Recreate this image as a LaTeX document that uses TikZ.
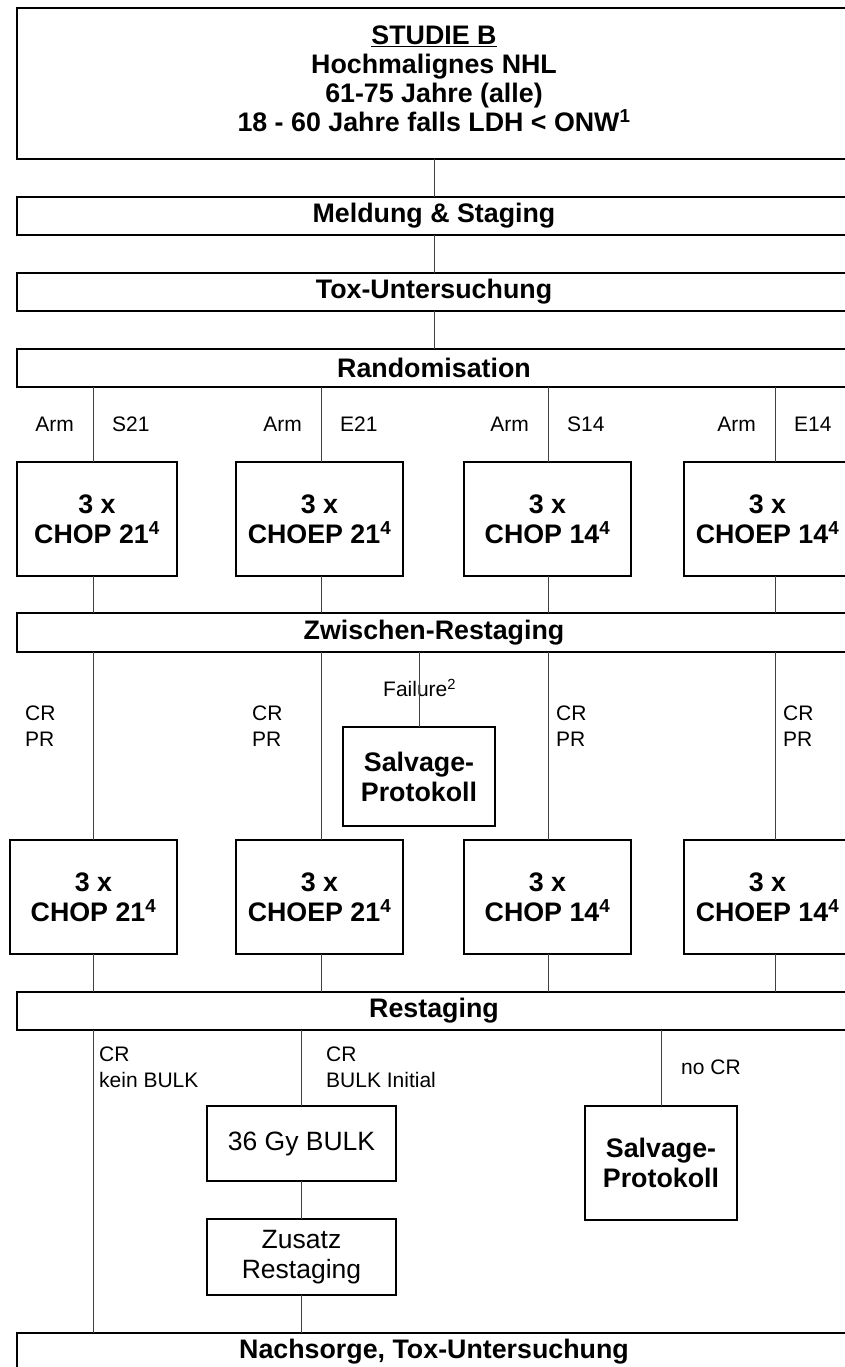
\documentclass[tikz,border=0pt]{standalone}
\usepackage{fontspec}
\setmainfont{Liberation Sans}
\begin{document}
\begin{tikzpicture}[x=1pt,y=-1pt,
  box/.style={draw=black, line width=1.6pt, inner sep=0pt, outer sep=0pt, align=center,
              font=\bfseries\fontsize{26.8}{30}\selectfont},
  bar/.style={box, minimum width=834pt, minimum height=38pt},
  chemo/.style={box, minimum width=167pt, minimum height=114pt},
  salvage/.style={box, minimum width=152pt},
  plainbox/.style={box, font=\fontsize{26.5}{30}\selectfont, minimum width=189pt},
  lbl/.style={inner sep=0pt, align=left, font=\fontsize{21}{26}\selectfont},
  title/.style={inner sep=0pt, align=center, font=\bfseries\fontsize{26.8}{29}\selectfont},
  link/.style={draw=black!75, line width=0.9pt}]

\useasboundingbox (0,0) rectangle (845,1367);
\clip (0,0) rectangle (845,1367);

% column positions of the four arms
\coordinate (k1) at (93,0);
\coordinate (k2) at (321,0);
\coordinate (k3) at (548,0);
\coordinate (k4) at (775,0);

% full-width stages
\node[box, minimum width=834pt, minimum height=151pt] (top) at (434,83.5) {};
\node[title] (toptext) at (434,78.5)
  {\underline{STUDIE B}\\Hochmalignes NHL\\61-75 Jahre (alle)\\18 - 60 Jahre falls LDH < ONW\textsuperscript{1}};
\node[bar] (meld) at (434,216) {Meldung \& Staging};
\node[bar] (tox)  at (434,292) {Tox-Untersuchung};
\node[bar] (rand) at (434,368) {Randomisation};
\node[bar, minimum height=39pt] (zw) at (434,632.5) {Zwischen-Restaging};
\node[bar] (rest) at (434,1011) {Restaging};
\node[bar] (nach) at (434,1352) {Nachsorge, Tox-Untersuchung};

% first three cycles
\node[chemo, minimum width=160pt] (a1) at (97,519)    {3 x\\CHOP 21\textsuperscript{4}};
\node[chemo] (a2) at (319.5,519) {3 x\\CHOEP 21\textsuperscript{4}};
\node[chemo] (a3) at (547.5,519) {3 x\\CHOP 14\textsuperscript{4}};
\node[chemo] (a4) at (767.5,519) {3 x\\CHOEP 14\textsuperscript{4}};

% second three cycles
\node[chemo] (d1) at (93.5,897)  {3 x\\CHOP 21\textsuperscript{4}};
\node[chemo] (d2) at (319.5,897) {3 x\\CHOEP 21\textsuperscript{4}};
\node[chemo] (d3) at (547.5,897) {3 x\\CHOP 14\textsuperscript{4}};
\node[chemo] (d4) at (767.5,897) {3 x\\CHOEP 14\textsuperscript{4}};

% salvage and radiotherapy
\node[salvage, minimum height=99pt] (salv1) at (419,776.5) {Salvage-\\Protokoll};
\node[plainbox, minimum height=75pt] (bulk) at (301.5,1143.5) {36 Gy BULK};
\node[plainbox, minimum height=76pt] (zus) at (301.5,1257) {Zusatz\\Restaging};
\node[salvage, minimum height=114pt] (salv2) at (661,1163) {Salvage-\\Protokoll};

% arm labels
\node[lbl, anchor=east] (arm1) at (74,424)  {Arm};
\node[lbl, anchor=west] (s21)  at (112,424) {S21};
\node[lbl, anchor=east] (arm2) at (302,424) {Arm};
\node[lbl, anchor=west] (e21)  at (340,424) {E21};
\node[lbl, anchor=east] (arm3) at (529,424) {Arm};
\node[lbl, anchor=west] (s14)  at (567,424) {S14};
\node[lbl, anchor=east] (arm4) at (756,424) {Arm};
\node[lbl, anchor=west] (e14)  at (794,424) {E14};

% response labels after interim restaging
\node[lbl, anchor=west] (r1) at (25,726)  {CR\\PR};
\node[lbl, anchor=west] (r2) at (252,726) {CR\\PR};
\node[lbl, anchor=west] (r3) at (556,726) {CR\\PR};
\node[lbl, anchor=west] (r4) at (783,726) {CR\\PR};
\node[lbl, anchor=west] (fail) at (383,688) {Failure\textsuperscript{2}};

% response labels after final restaging
\node[lbl, anchor=west] (q1) at (99,1067)  {CR\\kein BULK};
\node[lbl, anchor=west] (q2) at (326,1067) {CR\\BULK Initial};
\node[lbl, anchor=west] (q3) at (681,1067) {no CR};

% connectors
\draw[link] (top.south)  -- (meld.north);
\draw[link] (meld.south) -- (tox.north);
\draw[link] (tox.south)  -- (rand.north);
\foreach \i in {1,2,3,4}{
  \draw[link] (rand.south -| k\i) -- (a\i.north -| k\i);
  \draw[link] (a\i.south -| k\i)  -- (zw.north -| k\i);
  \draw[link] (zw.south -| k\i)   -- (d\i.north -| k\i);
  \draw[link] (d\i.south -| k\i)  -- (rest.north -| k\i);
}
\draw[link] (zw.south -| salv1) -- (salv1.north);
\draw[link] (rest.south -| k1) -- (nach.north -| k1);
\draw[link] (rest.south -| bulk) -- (bulk.north);
\draw[link] (bulk.south) -- (zus.north);
\draw[link] (zus.south) -- (nach.north -| zus);
\draw[link] (rest.south -| salv2) -- (salv2.north);
\end{tikzpicture}
\end{document}
